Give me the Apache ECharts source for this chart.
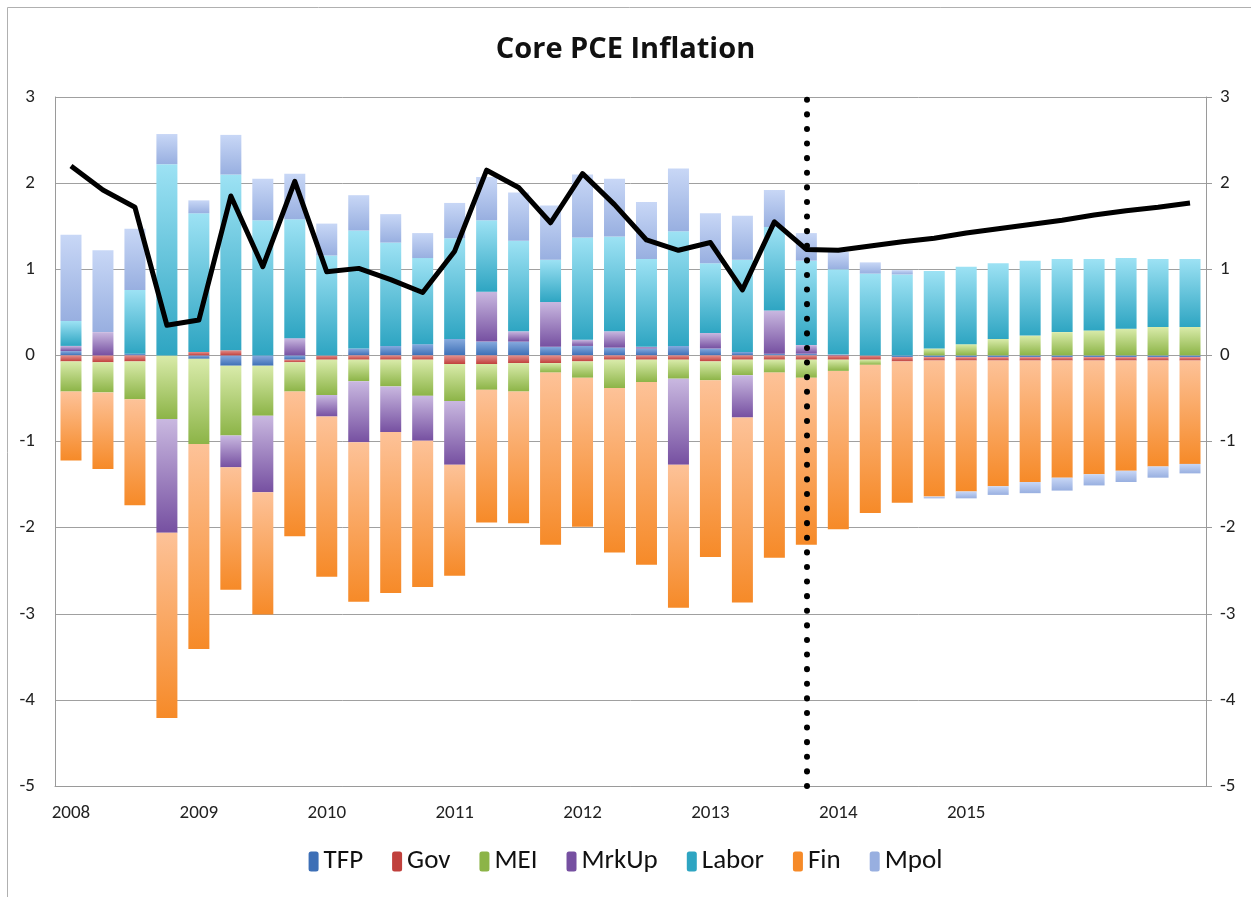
<!DOCTYPE html>
<html>
<head>
<meta charset="utf-8">
<title>Core PCE Inflation</title>
<script src="https://cdn.jsdelivr.net/npm/echarts@6/dist/echarts.min.js"></script>
<style>
  html, body { margin: 0; padding: 0; background: #fff; }
  #chart { width: 1251px; height: 897px; }
</style>
</head>
<body>
<div id="chart"></div>
<script>
// quarters 2008Q1 .. 2016Q4
const quarters = []
for (let y = 2008; y <= 2016; y++) {
  for (let q = 1; q <= 4; q++) quarters.push(y + 'Q' + q)
}
// only Q1 of 2008..2015 gets a label
const yearLabels = ['2008', '2009', '2010', '2011', '2012', '2013', '2014', '2015']

const seriesNames = ['TFP', 'Gov', 'MEI', 'MrkUp', 'Labor', 'Fin', 'Mpol']

const tfp = [0.05, 0, 0.02, 0, -0.04, -0.12, -0.12, -0.05, 0, 0.08, 0.11, 0.13,
  0.19, 0.16, 0.16, 0.10, 0.11, 0.09, 0.08, 0.11, 0.08, 0.04, 0.02, 0.02,
  0, 0, -0.02, -0.02, -0.02, -0.02, -0.02, -0.02, -0.02, -0.02, -0.02, -0.02]
const gov = [-0.07, -0.08, -0.07, 0, 0.04, 0.06, 0, -0.03, -0.05, -0.05, -0.05, -0.05,
  -0.10, -0.10, -0.09, -0.09, -0.07, -0.05, -0.05, -0.05, -0.07, -0.05, -0.05, -0.05,
  -0.05, -0.05, -0.05, -0.04, -0.04, -0.04, -0.04, -0.04, -0.04, -0.04, -0.04, -0.04]
const mei = [-0.35, -0.35, -0.44, -0.74, -0.99, -0.81, -0.58, -0.34, -0.41, -0.25, -0.31, -0.42,
  -0.43, -0.30, -0.33, -0.11, -0.19, -0.33, -0.26, -0.22, -0.22, -0.18, -0.15, -0.21,
  -0.13, -0.06, 0, 0.08, 0.13, 0.19, 0.23, 0.27, 0.29, 0.31, 0.33, 0.33]
const mrkUp = [0.06, 0.27, 0, -1.32, 0, -0.37, -0.89, 0.20, -0.25, -0.71, -0.53, -0.52,
  -0.74, 0.58, 0.12, 0.52, 0.07, 0.19, 0.02, -1.00, 0.18, -0.49, 0.50, 0.10,
  0.01, 0, 0, 0, 0, 0, 0, 0, 0, 0, 0, 0]
const labor = [0.29, 0, 0.74, 2.22, 1.61, 2.04, 1.57, 1.38, 1.16, 1.37, 1.20, 1.00,
  1.17, 0.83, 1.05, 0.49, 1.19, 1.10, 1.02, 1.33, 0.81, 1.07, 0.97, 0.98,
  0.99, 0.95, 0.94, 0.90, 0.90, 0.88, 0.87, 0.85, 0.83, 0.82, 0.79, 0.79]
const fin = [-0.80, -0.89, -1.23, -2.15, -2.38, -1.42, -1.42, -1.68, -1.86, -1.85, -1.87, -1.70,
  -1.29, -1.54, -1.53, -2.00, -1.73, -1.91, -2.12, -1.66, -2.05, -2.15, -2.15, -1.94,
  -1.84, -1.72, -1.64, -1.58, -1.52, -1.46, -1.41, -1.36, -1.32, -1.28, -1.23, -1.20]
const mpol = [1.00, 0.95, 0.71, 0.35, 0.15, 0.46, 0.48, 0.53, 0.37, 0.41, 0.33, 0.29,
  0.41, 0.50, 0.56, 0.63, 0.73, 0.67, 0.66, 0.73, 0.58, 0.51, 0.43, 0.32,
  0.20, 0.13, 0.05, -0.02, -0.08, -0.10, -0.13, -0.15, -0.13, -0.13, -0.13, -0.11]
const corePce = [2.20, 1.92, 1.72, 0.35, 0.41, 1.85, 1.03, 2.02, 0.97, 1.01, 0.88, 0.73,
  1.21, 2.15, 1.95, 1.54, 2.11, 1.75, 1.34, 1.22, 1.31, 0.76, 1.55, 1.23,
  1.22, 1.27, 1.32, 1.36, 1.42, 1.47, 1.52, 1.57, 1.63, 1.68, 1.72, 1.77]

// index of the quarter where the forecast starts (dotted line)
const forecastStart = 23

// light (top) / dark (bottom) shades, Excel style
const palette = [
  ['#86aade', '#3d6fb6'],
  ['#e4918e', '#c0403c'],
  ['#d9ebaa', '#8cb447'],
  ['#c9b8e0', '#7650a1'],
  ['#9de2f4', '#2ea5c2'],
  ['#fdc298', '#f68a28'],
  ['#c8d7f6', '#98afe0']
]

const font = "Carlito, 'Liberation Sans Narrow', 'Noto Sans', sans-serif"

function grad(pair) {
  return {
    type: 'linear', x: 0, y: 0, x2: 0, y2: 1,
    colorStops: [{ offset: 0, color: pair[0] }, { offset: 1, color: pair[1] }]
  }
}

const barData = [tfp, gov, mei, mrkUp, labor, fin, mpol]

const barSeries = seriesNames.map((name, i) => ({
  name: name,
  type: 'bar',
  stack: 'total',
  barWidth: 21,
  data: barData[i],
  itemStyle: { color: grad(palette[i]) }
}))

const chart = echarts.init(document.getElementById('chart'))

chart.setOption({
  animation: false,
  backgroundColor: '#fff',
  title: {
    text: 'Core PCE Inflation',
    left: 'center',
    top: 30,
    textStyle: { fontFamily: "'Open Sans', 'Noto Sans', sans-serif", fontSize: 29, fontWeight: 'bold', color: '#111' }
  },
  graphic: [
    { type: 'line', shape: { x1: 7.5, y1: 7.5, x2: 1251, y2: 7.5 }, style: { stroke: '#b0b0b0', lineWidth: 1 } },
    { type: 'line', shape: { x1: 7.5, y1: 7.5, x2: 7.5, y2: 897 }, style: { stroke: '#b0b0b0', lineWidth: 1 } }
  ],
  legend: {
    bottom: 17,
    left: 'center',
    itemWidth: 10,
    itemHeight: 20,
    itemGap: 29,
    textStyle: { fontFamily: font, fontSize: 27, color: '#111' },
    data: seriesNames.map((n, i) => ({ name: n, itemStyle: { color: palette[i][1] } }))
  },
  grid: { left: 55, right: 45, top: 97, bottom: 111 },
  xAxis: {
    type: 'category',
    data: quarters,
    axisLine: { onZero: false, lineStyle: { color: '#9a9a9a' } },
    axisTick: { show: false },
    axisLabel: {
      interval: 0,
      margin: 18,
      fontFamily: font,
      fontSize: 19,
      color: '#222',
      formatter: (v) => {
        const y = v.slice(0, 4)
        return v.endsWith('Q1') && yearLabels.includes(y) ? y : ''
      }
    }
  },
  yAxis: [
    {
      type: 'value', min: -5, max: 3, interval: 1,
      axisLine: { show: true, lineStyle: { color: '#9a9a9a' } },
      axisTick: { show: false },
      axisLabel: { fontFamily: font, fontSize: 19, color: '#222', margin: 20 },
      splitLine: { lineStyle: { color: '#a0a0a0' } }
    },
    {
      type: 'value', min: -5, max: 3, interval: 1, position: 'right',
      axisLine: { show: true, lineStyle: { color: '#9a9a9a' } },
      axisTick: { show: true, length: 6, lineStyle: { color: '#9a9a9a' } },
      axisLabel: { fontFamily: font, fontSize: 19, color: '#222', margin: 14 },
      splitLine: { show: false }
    }
  ],
  series: barSeries.concat([{
    name: 'Core PCE',
    type: 'line',
    data: corePce,
    symbol: 'none',
    z: 5,
    lineStyle: { color: '#000', width: 5, join: 'round' },
    markLine: {
      silent: true,
      symbol: 'none',
      label: { show: false },
      lineStyle: { color: '#000', width: 6, type: [0.1, 14.5], cap: 'round' },
      data: [{ xAxis: quarters[forecastStart] }]
    }
  }])
})
</script>
</body>
</html>
